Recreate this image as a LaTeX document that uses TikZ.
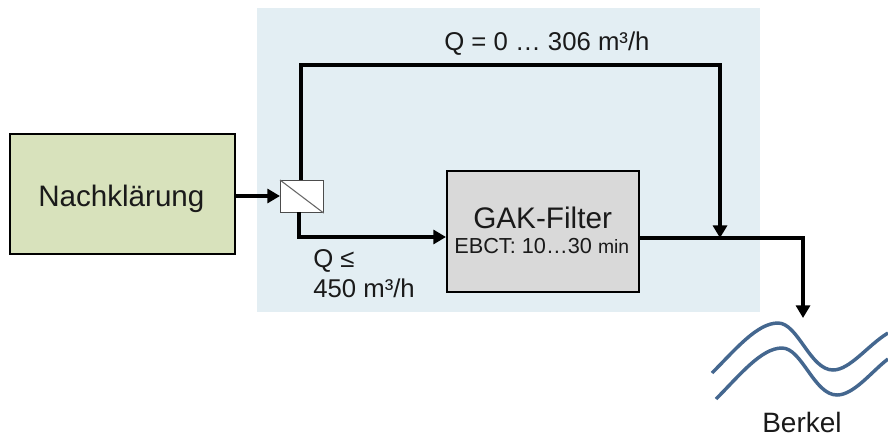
\documentclass[tikz,border=0pt]{standalone}
\usepackage{fontspec}
\setmainfont{Liberation Sans}
\usetikzlibrary{arrows.meta}
\definecolor{bgblue}{HTML}{E3EEF3}
\definecolor{boxgreen}{HTML}{D8E2BC}
\definecolor{boxgrey}{HTML}{D9D9D9}
\definecolor{river}{HTML}{44678F}
\definecolor{txt}{HTML}{1A1A1A}
\tikzset{
  x=0.75pt,y=-0.75pt,
  flow/.style={draw=black,line width=2.4pt,-{Triangle[length=9.5pt,width=10.5pt]},line join=miter},
  procbox/.style={draw=black,line width=1.5pt,inner sep=0pt,text=txt,align=center,anchor=north west},
  lbl/.style={inner sep=0pt,text=txt,anchor=base west},
  wave/.style={draw=river,line width=2.6pt}
}
\begin{document}
\begin{tikzpicture}
\useasboundingbox (0,0) rectangle (888,437);
\fill[bgblue] (257,8) rectangle (760,312);
\node[procbox,fill=boxgreen,minimum width=169pt,minimum height=90pt] (nk) at (8.5,133) {};
\node[lbl] (nkt) at (38,206) {\fontsize{22.2pt}{26pt}\selectfont Nachklärung};
\node[procbox,fill=boxgrey,minimum width=144pt,minimum height=90.75pt] (gak) at (446,169.5) {};
\node[lbl] (gakt) at (473,228) {\fontsize{22.3pt}{26pt}\selectfont GAK-Filter};
\node[lbl] (ebct) at (454,253) {\fontsize{16.3pt}{19pt}\selectfont EBCT: 10…30 \fontsize{14.5pt}{19pt}\selectfont min};
\node[draw=black!70,fill=white,line width=0.8pt,inner sep=0pt,minimum width=32pt,minimum height=24pt,anchor=north west] (sp) at (280,180) {};
\draw[black!60,line width=0.8pt] (sp.north west) -- (sp.south east);
\coordinate (spin) at (280,196);
\coordinate (spup) at (301,180);
\coordinate (spdn) at (299,212);
\coordinate (gakin) at (446,237);
\coordinate (gakout) at (638,238);
\coordinate (topc1) at (301,65);
\coordinate (topc2) at (720,65);
\coordinate (merge) at (720,238);
\coordinate (corner) at (803,238);
\coordinate (riv) at (803,318);
\draw[flow] (nk.east |- spin) -- (spin);
\draw[flow] (spdn) -- (299,237) -- (gakin);
\draw[flow] (spup) -- (topc1) -- (topc2) -- (merge);
\draw[flow] (gakout) -- (corner) -- (riv);
\draw[wave] (712,373) .. controls (735,350) and (757,323) .. (778,323) .. controls (798,323) and (810,370) .. (833,370) .. controls (850,370) and (868,345) .. (888,333);
\draw[wave] (716,399) .. controls (739,376) and (761,348) .. (782,348) .. controls (802,348) and (814,395) .. (837,395) .. controls (854,395) and (872,371) .. (888,359);
\node[lbl] (qtop) at (444,50) {\fontsize{19.3pt}{23pt}\selectfont Q = 0 … 306 m³/h};
\node[lbl] (qle) at (313,267) {\fontsize{19.3pt}{23pt}\selectfont Q ≤};
\node[lbl] (qval) at (313,297) {\fontsize{19.3pt}{23pt}\selectfont 450 m³/h};
\node[lbl] (berkel) at (762,432) {\fontsize{21pt}{25pt}\selectfont Berkel};
\end{tikzpicture}
\end{document}
